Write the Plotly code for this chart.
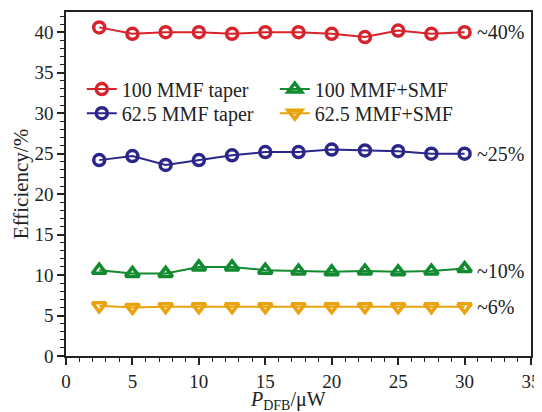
import plotly.graph_objects as go

p_dfb = [2.5, 5, 7.5, 10, 12.5, 15, 17.5, 20, 22.5, 25, 27.5, 30]
mmf100_taper = [40.6, 39.8, 40.0, 40.0, 39.8, 40.0, 40.0, 39.8, 39.4, 40.2, 39.8, 40.0]
mmf625_taper = [24.2, 24.7, 23.6, 24.2, 24.8, 25.2, 25.2, 25.5, 25.4, 25.3, 25.0, 25.0]
mmf100_smf = [10.6, 10.2, 10.2, 11.0, 11.0, 10.6, 10.5, 10.4, 10.5, 10.4, 10.5, 10.8]
mmf625_smf = [6.2, 6.0, 6.1, 6.1, 6.1, 6.1, 6.1, 6.1, 6.1, 6.1, 6.1, 6.1]

series_names = ["100 MMF taper", "100 MMF+SMF", "62.5 MMF taper", "62.5 MMF+SMF"]
label_texts = ["~40%", "~10%", "~25%", "~6%"]
label_values = [40.0, 10.5, 25.0, 6.0]
x_title = "<i>P</i><sub>DFB</sub>/μW"
y_title = "Efficiency/%"

RED = "#d7242c"
GREEN = "#128a2f"
BLUE = "#2b2689"
ORANGE = "#e9a30d"
FONT = "Liberation Serif"

series = [
    (series_names[0], mmf100_taper, RED, "circle-open", 11, "legend"),
    (series_names[1], mmf100_smf, GREEN, "triangle-up-open", 12, "legend"),
    (series_names[2], mmf625_taper, BLUE, "circle-open", 11, "legend2"),
    (series_names[3], mmf625_smf, ORANGE, "triangle-down-open", 12, "legend2"),
]

fig = go.Figure()
for name, vals, col, sym, sz, lg in series:
    fig.add_trace(go.Scatter(
        x=p_dfb, y=vals, name=name, mode="lines+markers", legend=lg,
        line=dict(color=col, width=2),
        marker=dict(symbol=sym, size=sz, color=col, line=dict(color=col, width=3.5)),
    ))

for txt, v in zip(label_texts, label_values):
    fig.add_annotation(x=30.75, y=v, xref="x", yref="y", text=txt, showarrow=False,
                       xanchor="left", yanchor="middle",
                       font=dict(family=FONT, size=20, color="#222"))

# x-axis title as annotation (placed just below tick labels)
fig.add_annotation(x=0.478, y=-0.128, xref="paper", yref="paper", text=x_title,
                   showarrow=False, xanchor="center", yanchor="middle",
                   font=dict(family=FONT, size=20, color="#222"))

legend_common = dict(orientation="h", xanchor="left", yanchor="middle",
                     entrywidth=148, entrywidthmode="pixels",
                     bgcolor="rgba(0,0,0,0)", font=dict(family=FONT, size=20, color="#222"),
                     itemsizing="trace")

fig.update_layout(
    width=534, height=404,
    margin=dict(l=58, r=11, t=4, b=56, autoexpand=False),
    paper_bgcolor="white", plot_bgcolor="white",
    font=dict(family=FONT, size=19, color="#222"),
    showlegend=True,
    legend=dict(x=0.034, y=0.776, **legend_common),
    legend2=dict(x=0.034, y=0.706, **legend_common),
)
fig.update_xaxes(
    range=[0, 35], tick0=0, dtick=5, showgrid=False, zeroline=False, automargin=False,
    showline=True, linecolor="#222", linewidth=1.5, mirror=True,
    ticks="outside", ticklen=7, tickwidth=1.5, tickcolor="#222",
    minor=dict(ticks="outside", dtick=1, ticklen=4, tickwidth=1.2, tickcolor="#222"),
    tickfont=dict(family=FONT, size=19),
)
fig.update_yaxes(
    range=[0, 42.5], tick0=0, dtick=5, showgrid=False, zeroline=False, automargin=False,
    showline=True, linecolor="#222", linewidth=1.5, mirror=True,
    ticks="outside", ticklen=7, tickwidth=1.5, tickcolor="#222",
    minor=dict(ticks="outside", dtick=1, ticklen=4, tickwidth=1.2, tickcolor="#222"),
    title=dict(text=y_title, font=dict(family=FONT, size=21), standoff=0),
    tickfont=dict(family=FONT, size=19),
)

fig.write_html("out.html")
